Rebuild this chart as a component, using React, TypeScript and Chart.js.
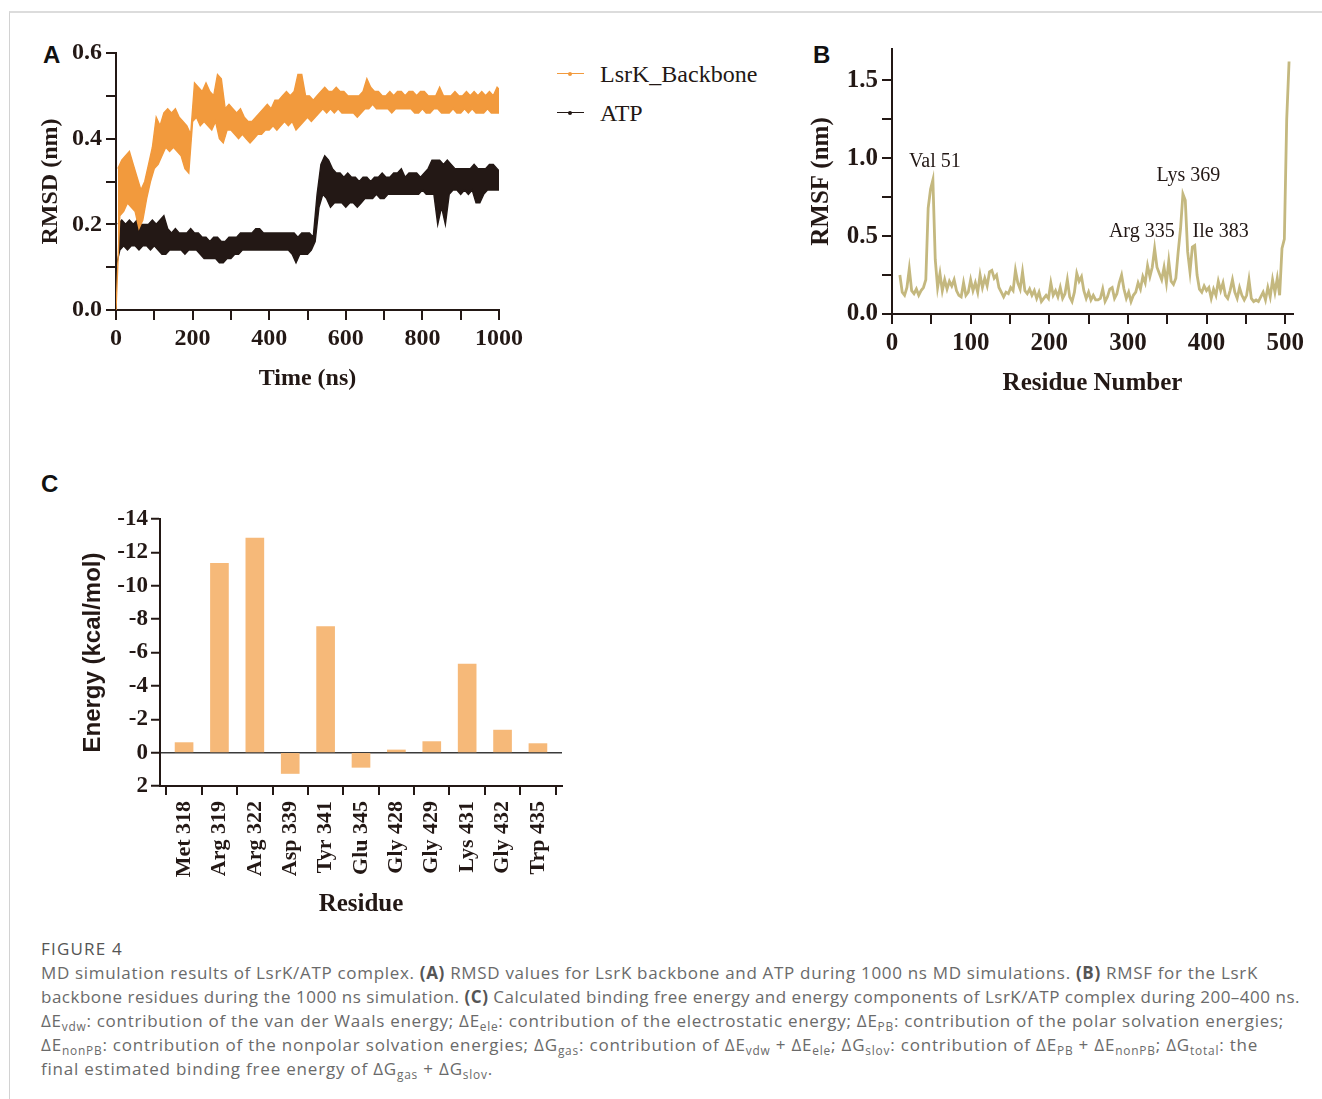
import React, { useEffect, useLayoutEffect, useRef } from 'react';
import { Chart, registerables } from 'chart.js';

Chart.register(...registerables);

// ---------------- Panel A: RMSD (lower / upper edge of the noisy trace, one pair per 10 ns bin) ----------------
const RMSD_BIN_NS = 10;
const BACKBONE_LOW = [
  0.00, 0.22, 0.23, 0.25, 0.24, 0.23, 0.19, 0.21, 0.26, 0.30,
  0.33, 0.34, 0.36, 0.38, 0.37, 0.38, 0.37, 0.36, 0.33, 0.32,
  0.44, 0.45, 0.43, 0.44, 0.43, 0.42, 0.44, 0.40, 0.39, 0.42,
  0.42, 0.41, 0.40, 0.41, 0.40, 0.39, 0.40, 0.41, 0.41, 0.42,
  0.42, 0.43, 0.42, 0.43, 0.44, 0.43, 0.44, 0.42, 0.43, 0.44,
  0.45, 0.44, 0.45, 0.46, 0.47, 0.46, 0.47, 0.46, 0.47, 0.46,
  0.46, 0.46, 0.46, 0.45, 0.46, 0.47, 0.47, 0.48, 0.47, 0.47,
  0.47, 0.47, 0.46, 0.47, 0.47, 0.47, 0.47, 0.47, 0.46, 0.46,
  0.47, 0.46, 0.46, 0.47, 0.47, 0.46, 0.46, 0.46, 0.47, 0.46,
  0.46, 0.47, 0.46, 0.47, 0.46, 0.46, 0.46, 0.47, 0.46, 0.46,
  0.46,
];
const BACKBONE_HIGH = [
  0.33, 0.35, 0.36, 0.37, 0.34, 0.31, 0.28, 0.30, 0.34, 0.38,
  0.45, 0.43, 0.46, 0.47, 0.46, 0.47, 0.45, 0.44, 0.43, 0.41,
  0.53, 0.52, 0.51, 0.53, 0.51, 0.50, 0.55, 0.54, 0.47, 0.48,
  0.47, 0.46, 0.47, 0.45, 0.44, 0.44, 0.45, 0.46, 0.47, 0.48,
  0.47, 0.49, 0.49, 0.50, 0.51, 0.50, 0.51, 0.55, 0.55, 0.50,
  0.50, 0.49, 0.50, 0.51, 0.52, 0.51, 0.51, 0.52, 0.51, 0.51,
  0.50, 0.50, 0.50, 0.50, 0.51, 0.54, 0.52, 0.51, 0.51, 0.50,
  0.50, 0.51, 0.50, 0.51, 0.51, 0.50, 0.51, 0.51, 0.50, 0.51,
  0.51, 0.50, 0.50, 0.50, 0.52, 0.50, 0.50, 0.50, 0.51, 0.50,
  0.50, 0.51, 0.50, 0.51, 0.50, 0.51, 0.50, 0.51, 0.50, 0.52,
  0.51,
];
const ATP_LOW = [
  0.10, 0.14, 0.15, 0.14, 0.15, 0.15, 0.14, 0.15, 0.15, 0.14,
  0.15, 0.14, 0.13, 0.13, 0.14, 0.14, 0.14, 0.14, 0.13, 0.14,
  0.14, 0.14, 0.13, 0.12, 0.12, 0.12, 0.12, 0.11, 0.11, 0.12,
  0.12, 0.13, 0.13, 0.14, 0.14, 0.14, 0.14, 0.14, 0.14, 0.14,
  0.14, 0.14, 0.14, 0.14, 0.14, 0.14, 0.13, 0.11, 0.13, 0.13,
  0.13, 0.14, 0.16, 0.24, 0.27, 0.26, 0.24, 0.25, 0.25, 0.25,
  0.24, 0.25, 0.25, 0.24, 0.25, 0.26, 0.26, 0.26, 0.27, 0.26,
  0.26, 0.27, 0.27, 0.27, 0.27, 0.27, 0.27, 0.27, 0.27, 0.27,
  0.28, 0.27, 0.27, 0.27, 0.20, 0.24, 0.20, 0.27, 0.28, 0.28,
  0.27, 0.28, 0.27, 0.28, 0.25, 0.25, 0.27, 0.28, 0.28, 0.28,
  0.28,
];
const ATP_HIGH = [
  0.20, 0.21, 0.20, 0.21, 0.20, 0.21, 0.20, 0.20, 0.20, 0.21,
  0.20, 0.21, 0.22, 0.19, 0.18, 0.19, 0.18, 0.18, 0.18, 0.19,
  0.18, 0.18, 0.17, 0.17, 0.16, 0.17, 0.17, 0.16, 0.16, 0.17,
  0.17, 0.17, 0.18, 0.18, 0.18, 0.18, 0.19, 0.19, 0.18, 0.18,
  0.18, 0.18, 0.18, 0.18, 0.18, 0.18, 0.18, 0.17, 0.18, 0.18,
  0.18, 0.17, 0.27, 0.34, 0.36, 0.35, 0.33, 0.32, 0.32, 0.31,
  0.32, 0.31, 0.31, 0.30, 0.31, 0.31, 0.30, 0.31, 0.31, 0.32,
  0.31, 0.31, 0.32, 0.32, 0.33, 0.31, 0.32, 0.32, 0.32, 0.31,
  0.32, 0.33, 0.35, 0.35, 0.35, 0.34, 0.35, 0.34, 0.33, 0.33,
  0.33, 0.33, 0.33, 0.34, 0.33, 0.33, 0.33, 0.34, 0.34, 0.33,
  0.32,
];
const TIME_TICKS = [0, 100, 200, 300, 400, 500, 600, 700, 800, 900, 1000];
const RMSD_TICKS = [0, 0.1, 0.2, 0.3, 0.4, 0.5, 0.6];

// ---------------- Panel B: RMSF ----------------
const RMSF_FIRST_RESIDUE = 10;
const RMSF_STEP = 3;
const RMSF_VALUES = [
  0.25, 0.14, 0.12, 0.17, 0.29, 0.15, 0.13, 0.16, 0.12, 0.15,
  0.17, 0.22, 0.68, 0.80, 0.86, 0.35, 0.17, 0.26, 0.15, 0.22,
  0.16, 0.21, 0.18, 0.22, 0.15, 0.12, 0.11, 0.20, 0.12, 0.14,
  0.22, 0.15, 0.20, 0.14, 0.25, 0.17, 0.23, 0.18, 0.27, 0.28,
  0.23, 0.25, 0.17, 0.14, 0.11, 0.14, 0.13, 0.17, 0.15, 0.28,
  0.20, 0.16, 0.27, 0.15, 0.13, 0.16, 0.12, 0.15, 0.10, 0.14,
  0.08, 0.10, 0.12, 0.10, 0.20, 0.12, 0.15, 0.11, 0.17, 0.10,
  0.13, 0.22, 0.11, 0.08, 0.14, 0.26, 0.21, 0.24, 0.15, 0.10,
  0.14, 0.09, 0.12, 0.09, 0.09, 0.10, 0.16, 0.08, 0.11, 0.16,
  0.17, 0.10, 0.13, 0.20, 0.25, 0.16, 0.10, 0.14, 0.08, 0.12,
  0.14, 0.20, 0.16, 0.24, 0.20, 0.31, 0.24, 0.30, 0.42, 0.30,
  0.26, 0.22, 0.30, 0.20, 0.34, 0.21, 0.19, 0.23, 0.40, 0.55,
  0.77, 0.73, 0.40, 0.27, 0.43, 0.44, 0.25, 0.16, 0.14, 0.18,
  0.15, 0.17, 0.10, 0.16, 0.12, 0.21, 0.15, 0.20, 0.12, 0.10,
  0.15, 0.22, 0.14, 0.10, 0.17, 0.12, 0.09, 0.12, 0.22, 0.10,
  0.08, 0.09, 0.08, 0.11, 0.14, 0.09, 0.17, 0.11, 0.22, 0.14,
  0.23, 0.12, 0.42, 0.48, 1.25, 1.62,
];
const RESIDUE_TICKS = [0, 50, 100, 150, 200, 250, 300, 350, 400, 450, 500];
const RMSF_TICKS = [0, 0.25, 0.5, 0.75, 1.0, 1.25, 1.5];
const PEAK_LABELS = ['Val 51', 'Arg 335', 'Lys 369', 'Ile 383'];
const PEAK_LABEL_RESIDUE = [54.6, 317.7, 377, 418];
const PEAK_LABEL_RMSF = [0.977, 0.526, 0.888, 0.526];

// ---------------- Panel C: per-residue binding energy ----------------
const RESIDUES = ['Met 318', 'Arg 319', 'Arg 322', 'Asp 339', 'Tyr 341', 'Glu 345', 'Gly 428', 'Gly 429', 'Lys 431', 'Gly 432', 'Trp 435'];
const ENERGY = [-0.6, -11.35, -12.85, 1.25, -7.55, 0.88, -0.16, -0.66, -5.3, -1.35, -0.54];
const ENERGY_TICKS = [-14, -12, -10, -8, -6, -4, -2, 0, 2];

// ---------------- styles ----------------
const INK = '#231815';
const ORANGE = '#f29a3d';
const KHAKI = '#c4b87f';
const BAR = '#f6b979';
const SERIF = '"Liberation Serif", "Times New Roman", serif';
const SANS = '"Liberation Sans", Arial, sans-serif';

// upper edge sits half a bin after the lower edge, so the two edges interleave in time
const edge = (values: number[], step: number, shift: number) =>
  values.map((v, i) => ({ x: i * step + shift, y: v }));

const axisStyle = (tickLength: number) => ({
  grid: { display: true, drawOnChartArea: false, drawTicks: true, tickLength, color: INK, lineWidth: 2 },
  border: { display: true, color: INK, width: 2 },
});

const bold = (size: number, family = SERIF) => ({ family, size, weight: 'bold' as const });

function ChartCanvas({ left, top, width, height, make }: any) {
  const ref = useRef<HTMLCanvasElement>(null);
  useEffect(() => {
    const chart = new Chart(ref.current as HTMLCanvasElement, make());
    return () => chart.destroy();
  }, []);
  return (
    <canvas
      ref={ref}
      width={width}
      height={height}
      style={{ position: 'absolute', left, top, width, height }}
    />
  );
}

const bandEdge = (label: string, data: any[], color: string, fill: any) => ({
  label, data, borderColor: color, backgroundColor: color, borderWidth: 1.4, pointRadius: 0, tension: 0, fill,
});

const makeRmsd = () => ({
  type: 'line',
  data: {
    datasets: [
      bandEdge('LsrK_Backbone', edge(BACKBONE_HIGH, RMSD_BIN_NS, RMSD_BIN_NS / 2), ORANGE, false),
      bandEdge('LsrK_Backbone low', edge(BACKBONE_LOW, RMSD_BIN_NS, 0), ORANGE, '-1'),
      bandEdge('ATP', edge(ATP_HIGH, RMSD_BIN_NS, RMSD_BIN_NS / 2), INK, false),
      bandEdge('ATP low', edge(ATP_LOW, RMSD_BIN_NS, 0), INK, '-1'),
    ],
  },
  options: {
    animation: false,
    responsive: false,
    events: [],
    layout: { padding: { top: 23, right: 31, left: 0, bottom: 0 } },
    plugins: { legend: { display: false }, tooltip: { enabled: false }, filler: { propagate: false } },
    scales: {
      x: {
        type: 'linear', min: 0, max: 1000,
        afterBuildTicks: (s: any) => { s.ticks = TIME_TICKS.map((v) => ({ value: v })); },
        afterFit: (s: any) => { s.height = 90; },
        ticks: { autoSkip: false, maxRotation: 0, padding: 4, color: INK, font: bold(24), callback: (v: number) => (v % 200 === 0 ? String(v) : '') },
        title: { display: true, text: 'Time (ns)', color: INK, font: bold(24), padding: { top: 0, bottom: 7 } },
        ...axisStyle(10),
      },
      y: {
        type: 'linear', min: 0, max: 0.6,
        afterBuildTicks: (s: any) => { s.ticks = RMSD_TICKS.map((v) => ({ value: v })); },
        afterFit: (s: any) => { s.width = 86; },
        ticks: { padding: 4, color: INK, font: bold(24), callback: (v: number) => (Math.round(v * 10) % 2 === 0 ? v.toFixed(1) : '') },
        title: { display: true, text: 'RMSD (nm)', color: INK, font: bold(24), padding: { top: 6.5, bottom: 0 } },
        ...axisStyle(10),
      },
    },
  },
});

const peakLabelPlugin = {
  id: 'peakLabels',
  afterDatasetsDraw(chart: any) {
    const { ctx, scales } = chart;
    ctx.save();
    ctx.font = `20px ${SERIF}`;
    ctx.fillStyle = INK;
    ctx.textAlign = 'center';
    ctx.textBaseline = 'middle';
    PEAK_LABELS.forEach((t, i) => {
      ctx.fillText(t, scales.x.getPixelForValue(PEAK_LABEL_RESIDUE[i]), scales.y.getPixelForValue(PEAK_LABEL_RMSF[i]));
    });
    ctx.restore();
  },
};

const makeRmsf = () => ({
  type: 'line',
  data: {
    datasets: [
      {
        label: 'RMSF',
        data: RMSF_VALUES.map((v, i) => ({ x: RMSF_FIRST_RESIDUE + i * RMSF_STEP, y: v })),
        borderColor: KHAKI, borderWidth: 2.8, pointRadius: 0, tension: 0,
      },
    ],
  },
  plugins: [peakLabelPlugin],
  options: {
    animation: false,
    responsive: false,
    events: [],
    layout: { padding: { top: 15, right: 27, left: 0, bottom: 0 } },
    plugins: { legend: { display: false }, tooltip: { enabled: false } },
    scales: {
      x: {
        type: 'linear', min: 0, max: 510,
        afterBuildTicks: (s: any) => { s.ticks = RESIDUE_TICKS.map((v) => ({ value: v })); },
        afterFit: (s: any) => { s.height = 86; },
        ticks: { autoSkip: false, maxRotation: 0, padding: 5, color: INK, font: bold(25), callback: (v: number) => (v % 100 === 0 ? String(v) : '') },
        title: { display: true, text: 'Residue Number', color: INK, font: bold(25), padding: { top: 0, bottom: 1 } },
        ...axisStyle(10),
      },
      y: {
        type: 'linear', min: 0, max: 1.7,
        afterBuildTicks: (s: any) => { s.ticks = RMSF_TICKS.map((v) => ({ value: v })); },
        afterFit: (s: any) => { s.width = 92; },
        ticks: { padding: 4, color: INK, font: bold(25), callback: (v: number) => (Math.round(v * 4) % 2 === 0 ? v.toFixed(1) : '') },
        title: { display: true, text: 'RMSF (nm)', color: INK, font: bold(25), padding: { top: 7, bottom: 0 } },
        ...axisStyle(10),
      },
    },
  },
});

const makeEnergy = () => ({
  type: 'bar',
  data: {
    datasets: [
      {
        label: 'Energy',
        data: ENERGY.map((v, i) => ({ x: i, y: v })),
        backgroundColor: BAR, borderWidth: 0, barThickness: 18,
      },
    ],
  },
  options: {
    animation: false,
    responsive: false,
    events: [],
    layout: { padding: { top: 59, right: 18, left: 0, bottom: 0 } },
    plugins: { legend: { display: false }, tooltip: { enabled: false } },
    scales: {
      x: {
        type: 'linear', min: -0.68, max: 10.68, offset: false,
        afterBuildTicks: (s: any) => { s.ticks = RESIDUES.map((_, i) => ({ value: i })); },
        afterFit: (s: any) => { s.height = 144; },
        ticks: { autoSkip: false, minRotation: 90, maxRotation: 90, padding: 6, color: INK, font: bold(22), callback: (v: number) => RESIDUES[v] ?? '' },
        title: { display: true, text: 'Residue', color: INK, font: bold(25), padding: { top: 0, bottom: 10 } },
        ...axisStyle(9),
      },
      y: {
        type: 'linear', min: -14, max: 2, reverse: true,
        afterBuildTicks: (s: any) => { s.ticks = ENERGY_TICKS.map((v) => ({ value: v })); },
        afterFit: (s: any) => { s.width = 130; },
        ticks: { padding: 3, color: INK, font: bold(23), callback: (v: number) => String(v) },
        title: { display: true, text: 'Energy (kcal/mol)', color: INK, font: bold(24, SANS), padding: { top: 48.6, bottom: 0 } },
        grid: {
          display: true, drawOnChartArea: true, drawTicks: true, tickLength: 9,
          color: (c: any) => (c.tick && c.tick.value === 0 ? '#3a3a3a' : 'rgba(0,0,0,0)'),
          lineWidth: 1.5, tickColor: INK, tickWidth: 2,
        },
        border: { display: true, color: INK, width: 2 },
      },
    },
  },
});

const subStyle: React.CSSProperties = { fontSize: '0.7em', verticalAlign: 'baseline', position: 'relative', top: '0.3em', lineHeight: 0 };
const S = ({ t }: { t: string }) => <sub style={subStyle}>{t}</sub>;
const B = ({ t }: { t: string }) => <b style={{ fontWeight: 700, color: '#555' }}>{t}</b>;

// a caption line whose letter spacing is tuned so that it ends where the reference line ends
function FitLine({ top, width, children, style }: any) {
  const ref = useRef<HTMLDivElement>(null);
  useLayoutEffect(() => {
    const fit = () => {
      const el = ref.current;
      if (!el) return;
      el.style.letterSpacing = '0px';
      const w = el.getBoundingClientRect().width;
      const n = (el.textContent || '').length;
      el.style.letterSpacing = `${(width - w) / n}px`;
    };
    fit();
    if ((document as any).fonts && (document as any).fonts.ready) (document as any).fonts.ready.then(fit);
  }, []);
  return (
    <div
      ref={ref}
      style={{
        position: 'absolute', left: 41, top, whiteSpace: 'nowrap', fontFamily: '"Open Sans", sans-serif',
        fontSize: 17, lineHeight: '24px', color: '#6a6a6a', ...style,
      }}
    >
      {children}
    </div>
  );
}

const letter = (left: number, top: number): React.CSSProperties => ({
  position: 'absolute', left, top, fontFamily: SANS, fontWeight: 700, fontSize: 24, lineHeight: '28px', color: '#111',
});

export default function App() {
  return (
    <div style={{ position: 'absolute', left: 0, top: 0, width: 1322, height: 1099, overflow: 'hidden', background: '#fff' }}>
      <div style={{ position: 'absolute', left: 9, top: 11, width: 1313, height: 1088, borderTop: '2px solid #dcdcdc', borderLeft: '1px solid #d2d2d2' }} />

      <div style={letter(43, 41)}>A</div>
      <div style={letter(813, 41)}>B</div>
      <div style={letter(41, 470)}>C</div>

      <ChartCanvas left={30} top={30} width={500} height={370} make={makeRmsd} />
      <ChartCanvas left={800} top={30} width={520} height={370} make={makeRmsf} />
      <ChartCanvas left={30} top={460} width={550} height={470} make={makeEnergy} />

      {/* legend of panel A */}
      <div style={{ position: 'absolute', left: 557, top: 73, width: 27, height: 1.3, background: ORANGE }} />
      <div style={{ position: 'absolute', left: 568, top: 72, width: 4, height: 4, borderRadius: 2, background: ORANGE }} />
      <div style={{ position: 'absolute', left: 600, top: 60, fontFamily: SERIF, fontSize: 24, lineHeight: '28px', color: INK, whiteSpace: 'nowrap' }}>LsrK_Backbone</div>
      <div style={{ position: 'absolute', left: 557, top: 112, width: 27, height: 1.3, background: INK }} />
      <div style={{ position: 'absolute', left: 568, top: 111, width: 4, height: 4, borderRadius: 2, background: INK }} />
      <div style={{ position: 'absolute', left: 600, top: 99, fontFamily: SERIF, fontSize: 24, lineHeight: '28px', color: INK, whiteSpace: 'nowrap' }}>ATP</div>

      {/* caption */}
      <FitLine top={937} width={82} style={{ color: '#555' }}>FIGURE 4</FitLine>
      <FitLine top={961} width={1217}>
        MD simulation results of LsrK/ATP complex. <B t="(A)" /> RMSD values for LsrK backbone and ATP during 1000 ns MD simulations. <B t="(B)" /> RMSF for the LsrK
      </FitLine>
      <FitLine top={985} width={1259}>
        backbone residues during the 1000 ns simulation. <B t="(C)" /> Calculated binding free energy and energy components of LsrK/ATP complex during 200–400 ns.
      </FitLine>
      <FitLine top={1009} width={1243}>
        ΔE<S t="vdw" />: contribution of the van der Waals energy; ΔE<S t="ele" />: contribution of the electrostatic energy; ΔE<S t="PB" />: contribution of the polar solvation energies;
      </FitLine>
      <FitLine top={1033} width={1217}>
        ΔE<S t="nonPB" />: contribution of the nonpolar solvation energies; ΔG<S t="gas" />: contribution of ΔE<S t="vdw" /> + ΔE<S t="ele" />; ΔG<S t="slov" />: contribution of ΔE<S t="PB" /> + ΔE<S t="nonPB" />; ΔG<S t="total" />: the
      </FitLine>
      <FitLine top={1057} width={452}>
        final estimated binding free energy of ΔG<S t="gas" /> + ΔG<S t="slov" />.
      </FitLine>
    </div>
  );
}
